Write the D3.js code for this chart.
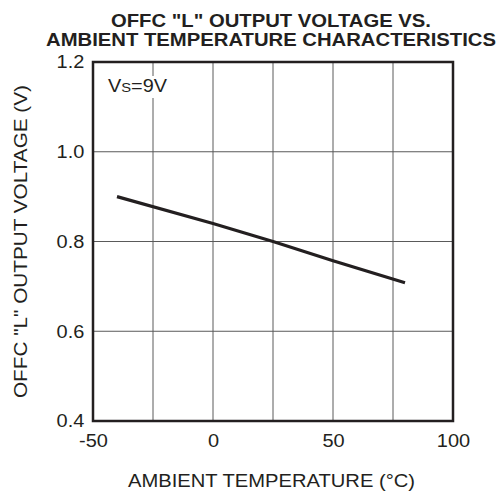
<!DOCTYPE html>
<html><head><meta charset="utf-8">
<script src="https://cdn.jsdelivr.net/npm/d3@7"></script>
<style>body{margin:0;background:#fff}text{font-family:"Liberation Sans",Arial,Helvetica,sans-serif;fill:#231f20}</style>
</head><body><svg id="c" width="503" height="495"></svg>
<script>
const temps = [-40, 0, 25, 50, 80];
const volts = [0.900, 0.840, 0.800, 0.757, 0.708];
const xTicks = [-50, 0, 50, 100];
const yTicks = [0.4, 0.6, 0.8, 1.0, 1.2];
const xGrid = [-25, 0, 25, 50, 75];
const yGrid = [0.6, 0.8, 1.0];
const titleLines = ['OFFC "L" OUTPUT VOLTAGE VS.', 'AMBIENT TEMPERATURE CHARACTERISTICS'];
const titleWidths = [320, 450];

const FONT = '"Liberation Sans",Arial,Helvetica,sans-serif';
const svg = d3.select("#c");
const L = 93, R = 453, T = 62, B = 421;
const x = d3.scaleLinear().domain([-50, 100]).range([L, R]);
const y = d3.scaleLinear().domain([0.4, 1.2]).range([B, T]);

svg.selectAll(".gx").data(xGrid).enter().append("line")
  .attr("x1", d => x(d)).attr("x2", d => x(d)).attr("y1", T).attr("y2", B)
  .attr("stroke", "#5a5a5a").attr("stroke-width", 1);
svg.selectAll(".gy").data(yGrid).enter().append("line")
  .attr("y1", d => y(d)).attr("y2", d => y(d)).attr("x1", L).attr("x2", R)
  .attr("stroke", "#5a5a5a").attr("stroke-width", 1);

// white box behind annotation
svg.append("rect").attr("x", 104).attr("y", 76).attr("width", 66).attr("height", 22).attr("fill", "#fff");

svg.append("rect").attr("x", L).attr("y", T).attr("width", R - L).attr("height", B - T)
  .attr("fill", "none").attr("stroke", "#231f20").attr("stroke-width", 2.5);

const xAxis = svg.append("g").attr("transform", `translate(0,${B})`)
  .call(d3.axisBottom(x).tickValues(xTicks).tickSize(0).tickPadding(13).tickFormat(d => String(d)));
xAxis.select(".domain").remove();
xAxis.selectAll("text").attr("font-size", 18.5).attr("transform", "scale(1.08,1)")
  .style("font-family", FONT).attr("fill", "#231f20");

const yAxis = svg.append("g").attr("transform", `translate(${L},0)`)
  .call(d3.axisLeft(y).tickValues(yTicks).tickSize(0).tickPadding(8).tickFormat(d3.format(".1f")));
yAxis.select(".domain").remove();
yAxis.selectAll("text").attr("font-size", 18.5).attr("transform", "scale(1.08,1)")
  .style("font-family", FONT).attr("fill", "#231f20");

const line = d3.line().x(d => x(d[0])).y(d => y(d[1]));
svg.append("path").datum(temps.map((t, i) => [t, volts[i]]))
  .attr("d", line).attr("fill", "none").attr("stroke", "#231f20").attr("stroke-width", 3.2);

const ann = svg.append("text").attr("x", 108).attr("y", 92).attr("font-size", 17.5)
  .attr("textLength", 59).attr("lengthAdjust", "spacingAndGlyphs");
ann.append("tspan").text("V");
ann.append("tspan").attr("font-size", 13).text("S");
ann.append("tspan").text("=9V");

svg.selectAll(".tt").data(titleLines).enter().append("text")
  .attr("x", 271).attr("y", (d, i) => 26.5 + i * 19).attr("text-anchor", "middle")
  .attr("font-size", 18).attr("font-weight", "bold")
  .attr("textLength", (d, i) => titleWidths[i]).attr("lengthAdjust", "spacingAndGlyphs")
  .text(d => d);

svg.append("text").attr("x", 271.5).attr("y", 487).attr("text-anchor", "middle")
  .attr("font-size", 17.5).attr("textLength", 287).attr("lengthAdjust", "spacingAndGlyphs")
  .text("AMBIENT TEMPERATURE (°C)");

svg.append("text").attr("transform", `translate(27,241.5) rotate(-90)`)
  .attr("text-anchor", "middle").attr("font-size", 17.5)
  .attr("textLength", 313).attr("lengthAdjust", "spacingAndGlyphs")
  .text('OFFC "L" OUTPUT VOLTAGE (V)');
</script></body></html>
